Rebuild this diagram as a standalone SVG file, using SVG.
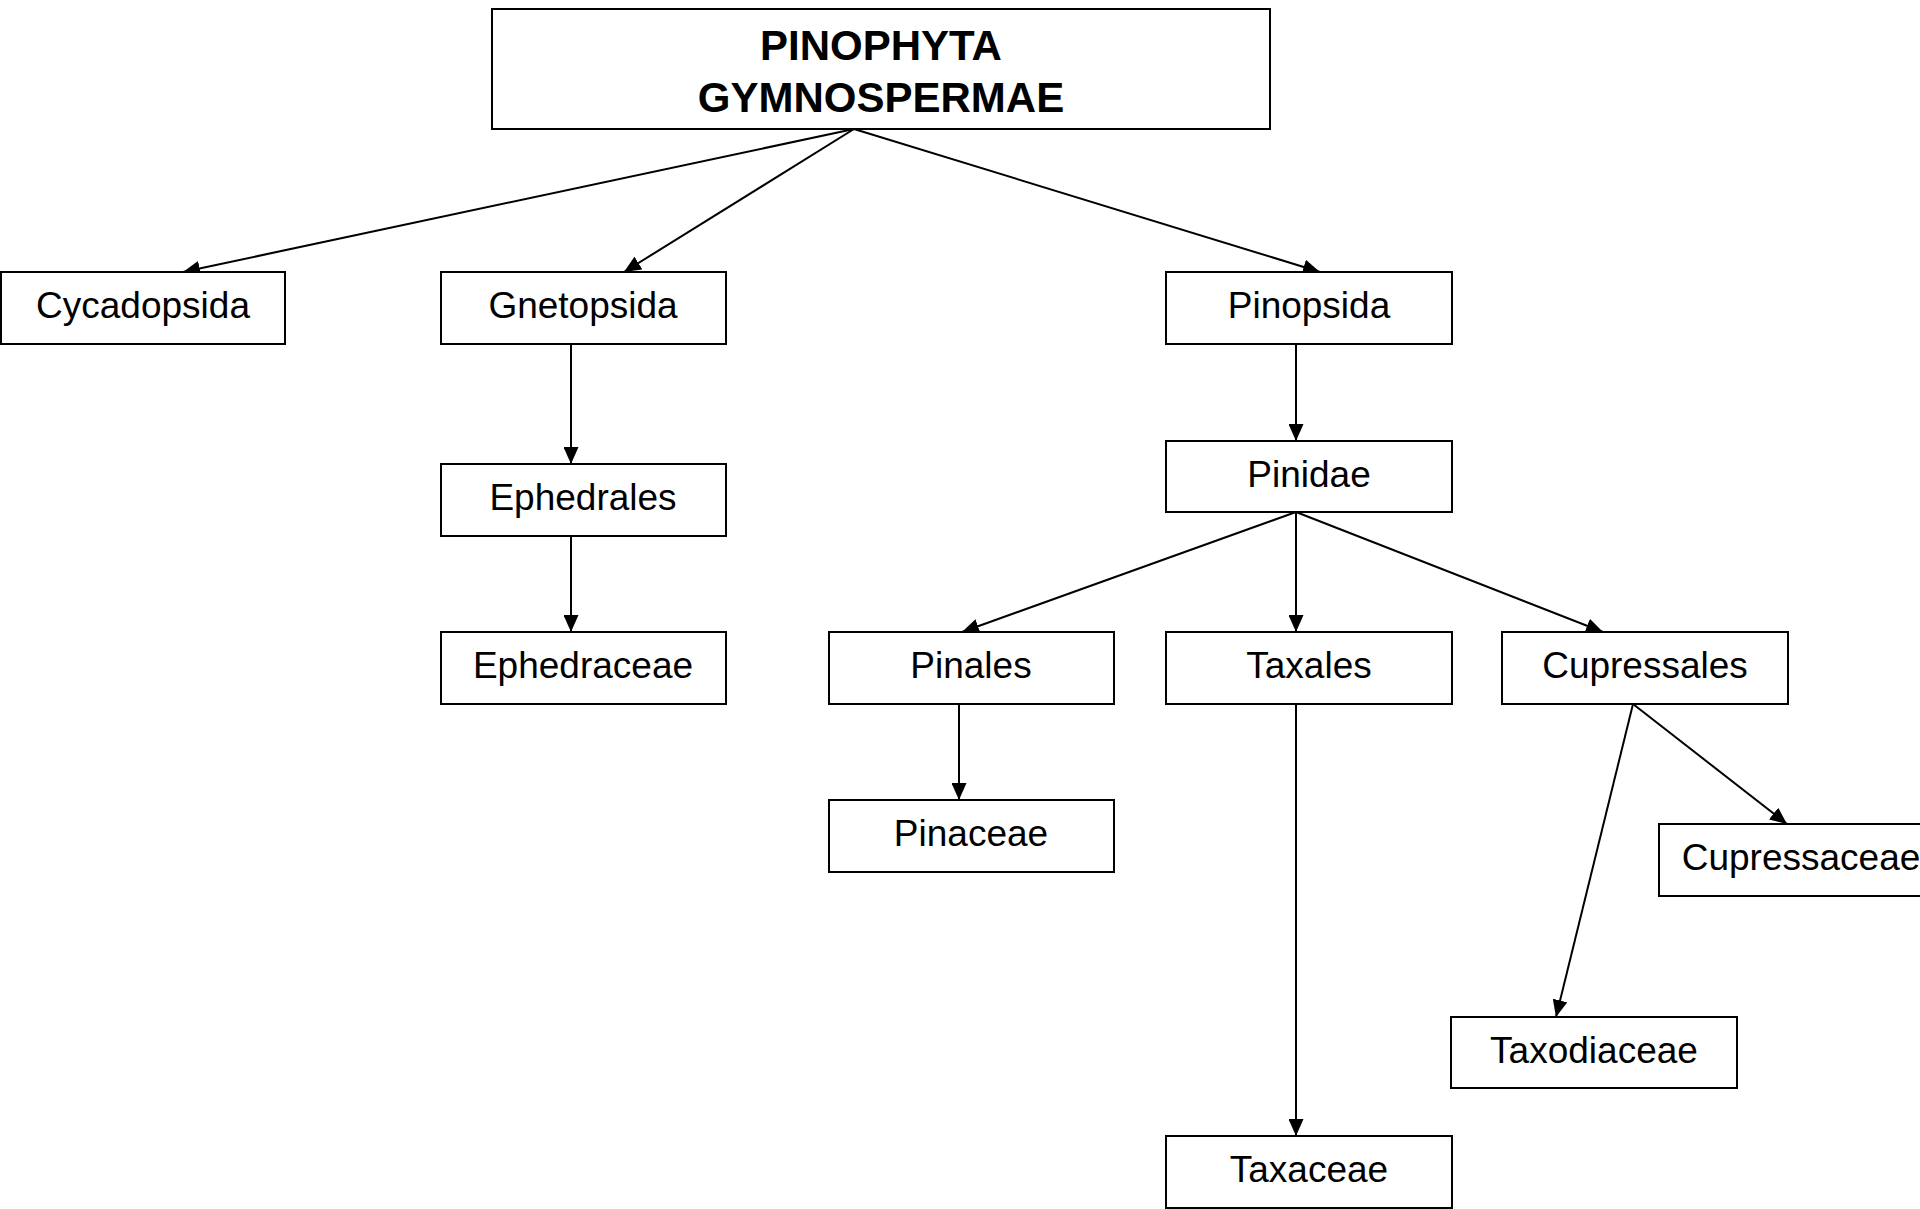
<svg xmlns="http://www.w3.org/2000/svg" width="1920" height="1209" viewBox="0 0 1920 1209">
<style>
.box{fill:#fff;stroke:#000;stroke-width:2}
.lbl{font-family:"Liberation Sans",Arial,sans-serif;font-size:37px;fill:#000;text-anchor:middle}
.ttl{font-family:"Liberation Sans",Arial,sans-serif;font-size:42px;font-weight:bold;fill:#000;text-anchor:middle}
.con{stroke:#000;stroke-width:2;fill:none;marker-end:url(#ah)}
</style>
<defs>
<marker id="ah" markerUnits="userSpaceOnUse" markerWidth="17" markerHeight="15" refX="17" refY="7.5" orient="auto">
<path d="M0,0 L17,7.5 L0,15 z" fill="#000"/>
</marker>
</defs>
<rect width="1920" height="1209" fill="#fff"/>
<g id="connectors">
<line class="con" x1="854" y1="129" x2="183" y2="272"/>
<line class="con" x1="854" y1="129" x2="624" y2="272"/>
<line class="con" x1="854" y1="129" x2="1320" y2="272"/>
<line class="con" x1="571" y1="344" x2="571" y2="464"/>
<line class="con" x1="571" y1="537" x2="571" y2="632"/>
<line class="con" x1="1296" y1="344" x2="1296" y2="441"/>
<line class="con" x1="1296" y1="512" x2="962" y2="632"/>
<line class="con" x1="1296" y1="512" x2="1296" y2="632"/>
<line class="con" x1="1296" y1="512" x2="1603" y2="632"/>
<line class="con" x1="959" y1="704" x2="959" y2="800"/>
<line class="con" x1="1296" y1="704" x2="1296" y2="1136"/>
<line class="con" x1="1633" y1="704" x2="1556" y2="1017"/>
<line class="con" x1="1633" y1="704" x2="1787" y2="824"/>
</g>
<g id="n-root"><rect class="box" x="492" y="9" width="778" height="120"/><text class="ttl" x="881" y="60">PINOPHYTA</text><text class="ttl" x="881" y="112">GYMNOSPERMAE</text></g>
<g id="n-cycadopsida"><rect class="box" x="1" y="272" width="284" height="72"/><text class="lbl" x="143" y="318">Cycadopsida</text></g>
<g id="n-gnetopsida"><rect class="box" x="441" y="272" width="285" height="72"/><text class="lbl" x="583" y="318">Gnetopsida</text></g>
<g id="n-pinopsida"><rect class="box" x="1166" y="272" width="286" height="72"/><text class="lbl" x="1309" y="318">Pinopsida</text></g>
<g id="n-ephedrales"><rect class="box" x="441" y="464" width="285" height="72"/><text class="lbl" x="583" y="510">Ephedrales</text></g>
<g id="n-ephedraceae"><rect class="box" x="441" y="632" width="285" height="72"/><text class="lbl" x="583" y="678">Ephedraceae</text></g>
<g id="n-pinidae"><rect class="box" x="1166" y="441" width="286" height="71"/><text class="lbl" x="1309" y="487">Pinidae</text></g>
<g id="n-pinales"><rect class="box" x="829" y="632" width="285" height="72"/><text class="lbl" x="971" y="678">Pinales</text></g>
<g id="n-taxales"><rect class="box" x="1166" y="632" width="286" height="72"/><text class="lbl" x="1309" y="678">Taxales</text></g>
<g id="n-cupressales"><rect class="box" x="1502" y="632" width="286" height="72"/><text class="lbl" x="1645" y="678">Cupressales</text></g>
<g id="n-pinaceae"><rect class="box" x="829" y="800" width="285" height="72"/><text class="lbl" x="971" y="846">Pinaceae</text></g>
<g id="n-cupressaceae"><rect class="box" x="1659" y="824" width="286" height="72"/><text class="lbl" x="1801" y="870">Cupressaceae</text></g>
<g id="n-taxodiaceae"><rect class="box" x="1451" y="1017" width="286" height="71"/><text class="lbl" x="1594" y="1063">Taxodiaceae</text></g>
<g id="n-taxaceae"><rect class="box" x="1166" y="1136" width="286" height="72"/><text class="lbl" x="1309" y="1182">Taxaceae</text></g>
</svg>
